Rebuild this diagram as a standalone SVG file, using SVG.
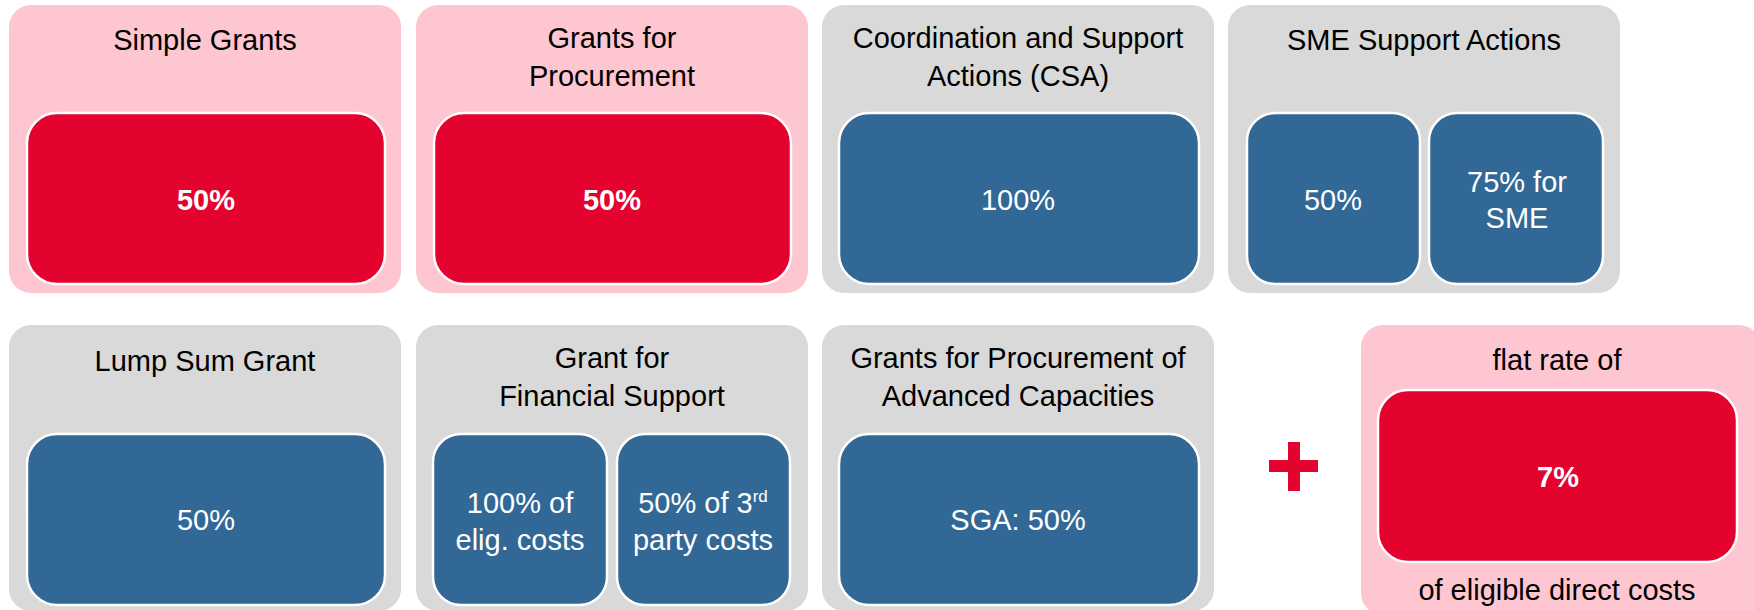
<svg xmlns="http://www.w3.org/2000/svg" width="1754" height="610" viewBox="0 0 1754 610">
<style>
.pink{fill:#FDC6D0}
.gray{fill:#D9D9D9}
.red{fill:#E4032E;stroke:#fff;stroke-width:2.5}
.blue{fill:#326896;stroke:#fff;stroke-width:2.5}
text{font-family:"Liberation Sans",Arial,sans-serif;font-size:29px;text-anchor:middle}
.t{fill:#000}
.w{fill:#fff}
.b{font-weight:bold}
</style>
<rect width="1754" height="610" fill="#fff"/>
<g id="simple-grants">
<rect class="pink" x="9" y="5" width="392" height="288" rx="22"/>
<text class="t" x="205" y="50">Simple Grants</text>
<rect class="red" x="27" y="113" width="358" height="171" rx="30"/>
<text class="w b" x="206" y="210">50%</text>
</g>
<g id="grants-procurement">
<rect class="pink" x="416" y="5" width="392" height="288" rx="22"/>
<text class="t" x="612" y="48">Grants for</text>
<text class="t" x="612" y="86">Procurement</text>
<rect class="red" x="434" y="113" width="357" height="171" rx="30"/>
<text class="w b" x="612" y="210">50%</text>
</g>
<g id="csa">
<rect class="gray" x="822" y="5" width="392" height="288" rx="22"/>
<text class="t" x="1018" y="48">Coordination and Support</text>
<text class="t" x="1018" y="86">Actions (CSA)</text>
<rect class="blue" x="839" y="113" width="360" height="171" rx="30"/>
<text class="w" x="1018" y="210">100%</text>
</g>
<g id="sme">
<rect class="gray" x="1228" y="5" width="392" height="288" rx="22"/>
<text class="t" x="1424" y="50">SME Support Actions</text>
<rect class="blue" x="1247" y="113" width="173" height="171" rx="28"/>
<text class="w" x="1333" y="210">50%</text>
<rect class="blue" x="1429" y="113" width="174" height="171" rx="28"/>
<text class="w" x="1517" y="192">75% for</text>
<text class="w" x="1517" y="228">SME</text>
</g>
<g id="lump-sum">
<rect class="gray" x="9" y="325" width="392" height="286" rx="22"/>
<text class="t" x="205" y="371">Lump Sum Grant</text>
<rect class="blue" x="27" y="434" width="358" height="171" rx="30"/>
<text class="w" x="206" y="530">50%</text>
</g>
<g id="financial-support">
<rect class="gray" x="416" y="325" width="392" height="286" rx="22"/>
<text class="t" x="612" y="368">Grant for</text>
<text class="t" x="612" y="406">Financial Support</text>
<rect class="blue" x="433" y="434" width="174" height="171" rx="28"/>
<text class="w" x="520" y="513">100% of</text>
<text class="w" x="520" y="550">elig. costs</text>
<rect class="blue" x="617" y="434" width="173" height="171" rx="28"/>
<text class="w" x="703" y="513">50% of 3<tspan font-size="17" dy="-11">rd</tspan></text>
<text class="w" x="703" y="550">party costs</text>
</g>
<g id="advanced-capacities">
<rect class="gray" x="822" y="325" width="392" height="286" rx="22"/>
<text class="t" x="1018" y="368">Grants for Procurement of</text>
<text class="t" x="1018" y="406">Advanced Capacities</text>
<rect class="blue" x="839" y="434" width="360" height="171" rx="30"/>
<text class="w" x="1018" y="530">SGA: 50%</text>
</g>
<g id="plus">
<rect x="1269" y="460" width="49" height="12" fill="#E4032E"/>
<rect x="1288" y="442" width="12" height="49" fill="#E4032E"/>
</g>
<g id="flat-rate">
<rect class="pink" x="1361" y="325" width="400" height="290" rx="22"/>
<text class="t" x="1557" y="370">flat rate of</text>
<rect class="red" x="1378" y="390" width="359" height="172" rx="30"/>
<text class="w b" x="1558" y="487">7%</text>
<text class="t" x="1557" y="600">of eligible direct costs</text>
</g>
<g id="connectors"></g>
</svg>
